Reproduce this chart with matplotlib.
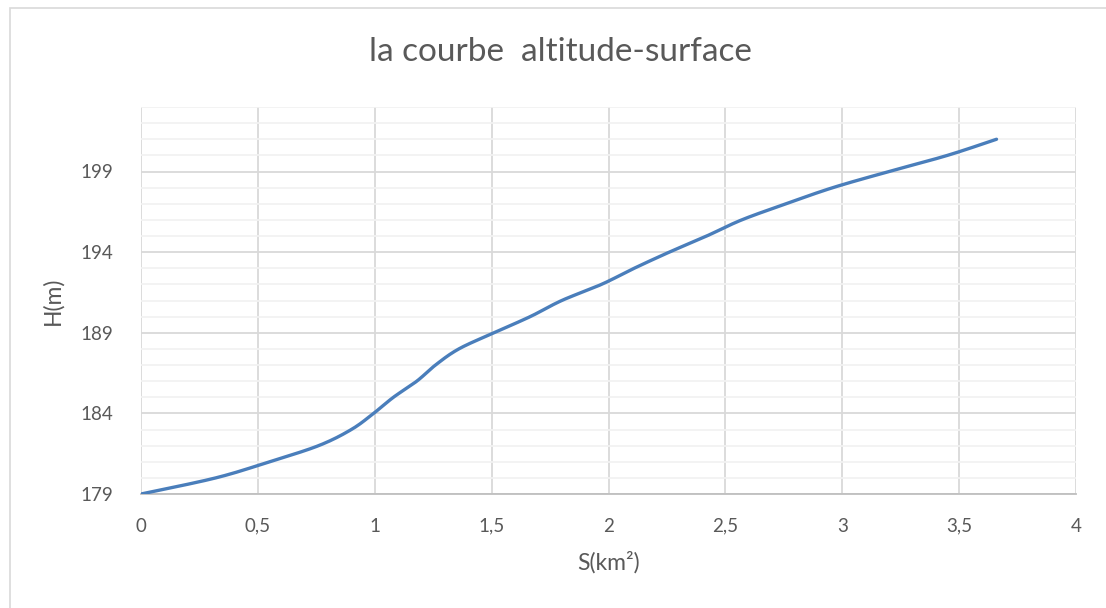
import numpy as np
import matplotlib.pyplot as plt
from matplotlib.ticker import MultipleLocator, FuncFormatter
from matplotlib.patches import Rectangle

# altitude (m) and cumulated surface (km²)
H = [179, 180, 181, 182, 183, 184, 185, 186, 187, 188, 189, 190,
     191, 192, 193, 194, 195, 196, 197, 198, 199, 200, 201]
S = [0, 0.32, 0.55, 0.76, 0.9, 0.995, 1.08, 1.18, 1.26, 1.36, 1.51, 1.665,
     1.8, 1.97, 2.11, 2.26, 2.42, 2.57, 2.76, 2.96, 3.2, 3.45, 3.66]

x_ticks = [0, 0.5, 1, 1.5, 2, 2.5, 3, 3.5, 4]
y_ticks = [179, 184, 189, 194, 199]


def smooth(xs, ys, n=20):
    # catmull-rom through the points, like a spreadsheet "smoothed line"
    p = np.column_stack([xs, ys]).astype(float)
    p = np.vstack([p[0], p, p[-1]])
    out = []
    t = np.linspace(0, 1, n, endpoint=False)[:, None]
    for i in range(1, len(p) - 2):
        p0, p1, p2, p3 = p[i - 1], p[i], p[i + 1], p[i + 2]
        seg = 0.5 * ((2 * p1) + (-p0 + p2) * t
                     + (2 * p0 - 5 * p1 + 4 * p2 - p3) * t ** 2
                     + (-p0 + 3 * p1 - 3 * p2 + p3) * t ** 3)
        out.append(seg)
    out.append(p[-2][None, :])
    out = np.vstack(out)
    return out[:, 0], out[:, 1]


plt.rcParams['font.family'] = ['Lato', 'DejaVu Sans']
grey = '#595959'

fig = plt.figure(figsize=(11.06, 6.08), dpi=100)
fig.patches.append(Rectangle((10 / 1106, -0.1), 1.2, 1 - 8 / 608 + 0.1,
                             transform=fig.transFigure, fill=False,
                             edgecolor='#d9d9d9', linewidth=1.2))

ax = fig.add_axes([141 / 1106, 1 - 494 / 608, (1076 - 141) / 1106, (494 - 107) / 608])

sx, sy = smooth(S, H)
ax.plot(sx, sy, color='#4a7ebb', linewidth=2.4, solid_capstyle='round', zorder=3)

ax.set_xlim(0, 4)
ax.set_ylim(179, 203)
ax.set_xticks(x_ticks)
ax.set_yticks(y_ticks)
ax.yaxis.set_minor_locator(MultipleLocator(1))
ax.xaxis.set_major_formatter(FuncFormatter(lambda v, _: f'{v:g}'.replace('.', ',')))

ax.grid(which='major', axis='both', color='#d9d9d9', linewidth=1.3)
ax.grid(which='minor', axis='y', color='#f2f2f2', linewidth=1.3)
ax.set_axisbelow(True)

for side in ['top', 'right', 'left']:
    ax.spines[side].set_visible(False)
ax.spines['bottom'].set_color('#bfbfbf')
ax.spines['bottom'].set_linewidth(1.3)

ax.tick_params(which='both', length=0)
ax.tick_params(axis='y', pad=20, labelsize=13.5, labelcolor=grey)
ax.tick_params(axis='x', pad=17, labelsize=13.5, labelcolor=grey)

ax.set_xlabel('S(km²)', fontsize=16.5, color=grey, labelpad=12)
ax.set_ylabel('H(m)', fontsize=16.5, color=grey, labelpad=12)

fig.text(560 / 1106, 1 - 52 / 608, 'la courbe  altitude-surface',
         ha='center', va='center', fontsize=24, color=grey)

fig.savefig('out.png', dpi=100)
